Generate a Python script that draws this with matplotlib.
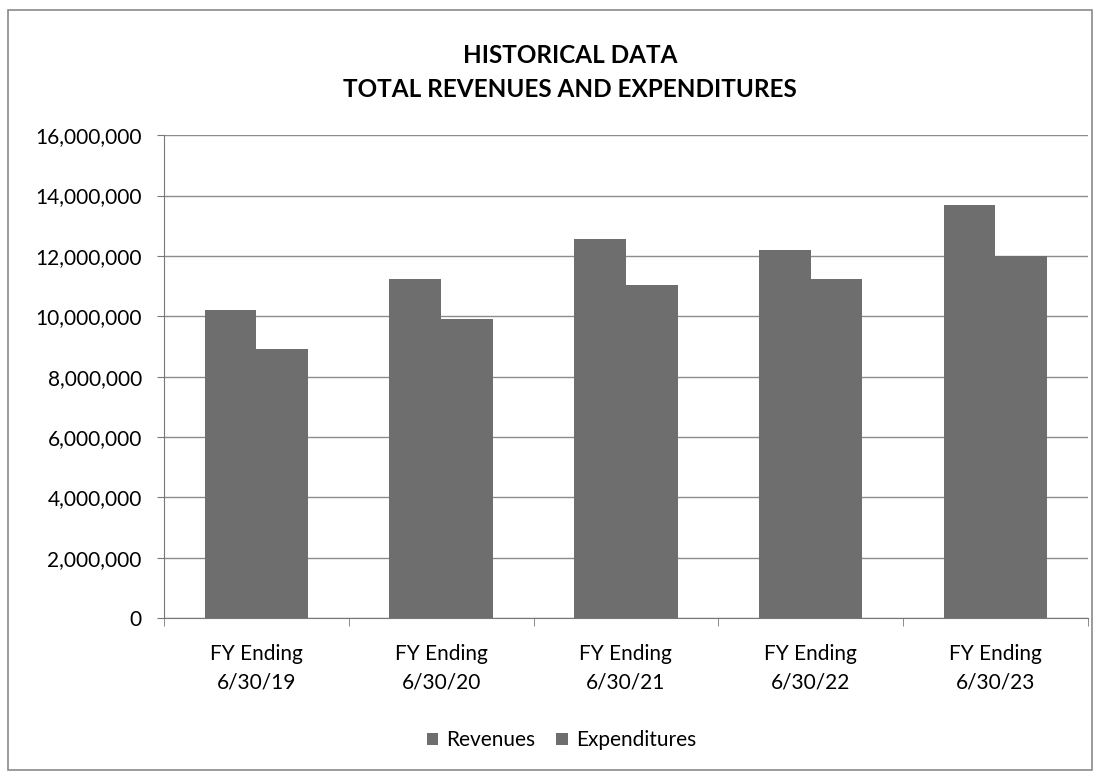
import numpy as np
import matplotlib.pyplot as plt
from matplotlib.patches import Rectangle

# values
categories = ['FY Ending\n6/30/19', 'FY Ending\n6/30/20', 'FY Ending\n6/30/21',
              'FY Ending\n6/30/22', 'FY Ending\n6/30/23']
revenues = [10200000, 11250000, 12550000, 12200000, 13700000]
expenditures = [8900000, 9900000, 11050000, 11250000, 12000000]
yticks = [0, 2000000, 4000000, 6000000, 8000000, 10000000, 12000000, 14000000, 16000000]

plt.rcParams['font.family'] = ['Lato', 'DejaVu Sans']

fig = plt.figure(figsize=(11.01, 7.77), dpi=100)
ax = fig.add_axes([0.149, 0.2046, 0.839, 0.6214])

# outer chart frame
fig.patches.append(Rectangle((8 / 1101, 1 - 770 / 777), 1084 / 1101, 760 / 777,
                             transform=fig.transFigure, fill=False,
                             edgecolor='#8a8a8a', linewidth=1.2))

x = np.arange(len(categories))
w = 0.28
bar_color = '#6e6e6e'
ax.bar(x - w / 2, revenues, w, color=bar_color, label='Revenues', zorder=3)
ax.bar(x + w / 2, expenditures, w, color=bar_color, label='Expenditures', zorder=3)

ax.set_xlim(-0.5, len(categories) - 0.5)
ax.set_ylim(0, 16000000)
ax.set_yticks(yticks)
ax.set_yticklabels([f'{v:,}' for v in yticks], fontsize=15)
ax.set_xticks(x)
ax.set_xticklabels(categories, fontsize=15, linespacing=1.5)
ax.set_xticks(np.arange(-0.5, len(categories)), minor=True)
ax.tick_params(axis='x', which='major', length=0, pad=19)
ax.tick_params(axis='x', which='minor', length=6, color='#777777')
ax.tick_params(axis='y', length=5, color='#777777', pad=11)

ax.grid(axis='y', color='#8c8c8c', linewidth=1.0, zorder=0)
for s in ['top', 'right']:
    ax.spines[s].set_visible(False)
ax.spines['left'].set_color('#777777')
ax.spines['bottom'].set_color('#777777')

fig.text(0.518, 0.907, 'HISTORICAL DATA\nTOTAL REVENUES AND EXPENDITURES',
         ha='center', va='center', fontsize=17.5, fontweight='bold', linespacing=1.6)

fig.legend(loc='center', bbox_to_anchor=(0.51, 0.047), ncol=2, frameon=False,
           fontsize=15, handlelength=0.55, handleheight=0.55, handletextpad=0.4,
           columnspacing=1.0)

fig.savefig('out.png', dpi=100)
